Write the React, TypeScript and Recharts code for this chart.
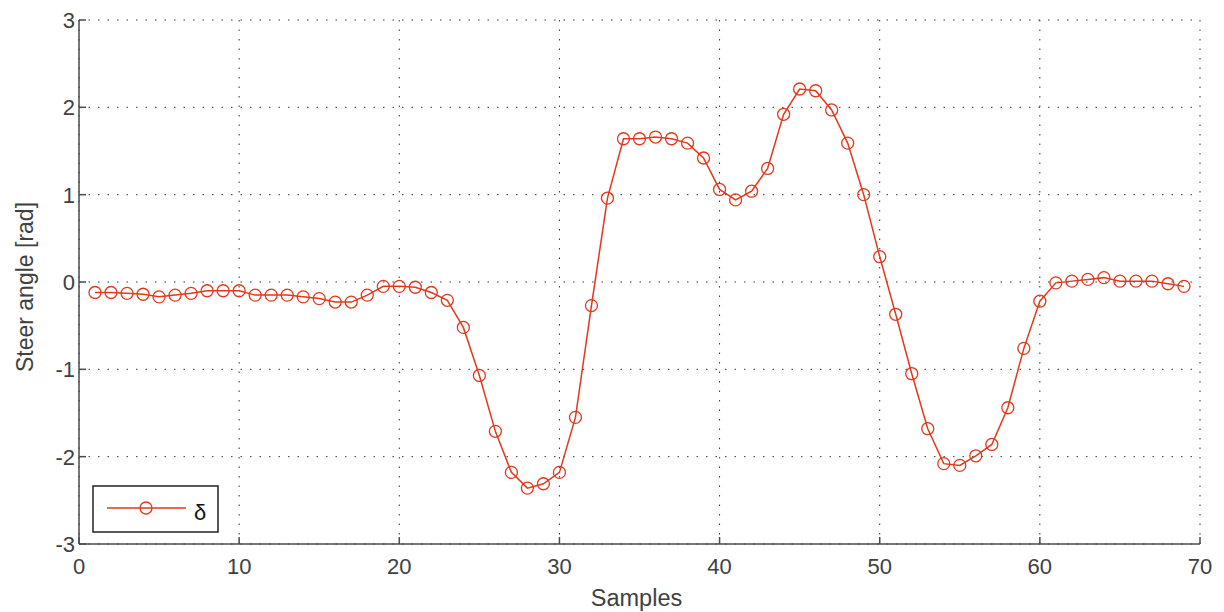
import { LineChart, Line, XAxis, YAxis, CartesianGrid, Legend, Label } from "recharts";

const SAMPLES = [
  1, 2, 3, 4, 5, 6, 7, 8, 9, 10, 11, 12, 13, 14, 15, 16, 17, 18, 19, 20, 21, 22, 23,
  24, 25, 26, 27, 28, 29, 30, 31, 32, 33, 34, 35, 36, 37, 38, 39, 40, 41, 42, 43, 44,
  45, 46, 47, 48, 49, 50, 51, 52, 53, 54, 55, 56, 57, 58, 59, 60, 61, 62, 63, 64, 65,
  66, 67, 68, 69,
];

// steer angle delta [rad]
const STEER = [
  -0.12, -0.12, -0.13, -0.14, -0.17, -0.15, -0.13, -0.1, -0.1, -0.1, -0.15, -0.15,
  -0.15, -0.17, -0.19, -0.23, -0.23, -0.15, -0.05, -0.05, -0.06, -0.12, -0.21, -0.52,
  -1.07, -1.71, -2.18, -2.36, -2.31, -2.18, -1.55, -0.27, 0.96, 1.64, 1.64, 1.66, 1.64,
  1.59, 1.42, 1.06, 0.94, 1.04, 1.3, 1.92, 2.21, 2.19, 1.97, 1.59, 1.0, 0.29, -0.37,
  -1.05, -1.68, -2.08, -2.1, -1.99, -1.86, -1.44, -0.76, -0.22, -0.01, 0.01, 0.03, 0.05,
  0.01, 0.01, 0.01, -0.02, -0.05,
];

const X_TICKS = [0, 10, 20, 30, 40, 50, 60, 70];
const Y_TICKS = [-3, -2, -1, 0, 1, 2, 3];

const RED = "#e2381b";
const AXIS = "#4a4a4a";
const TEXT = "#404040";
const FONT = "'Liberation Sans', Arial, sans-serif";
const TICK_LEN = 7;

const data = SAMPLES.map((s, i) => ({ sample: s, delta: STEER[i] }));

function BottomTick(props: any) {
  const { x, y, payload } = props;
  return (
    <g>
      <line x1={x} x2={x} y1={y} y2={y - TICK_LEN} stroke={AXIS} strokeWidth={1.5} />
      <text x={x} y={y + 30} textAnchor="middle" fill={TEXT} fontSize={22} fontFamily={FONT}>
        {payload.value}
      </text>
    </g>
  );
}

function TopTick(props: any) {
  const { x, y } = props;
  return <line x1={x} x2={x} y1={y} y2={y + TICK_LEN} stroke={AXIS} strokeWidth={1.5} />;
}

function LeftTick(props: any) {
  const { x, y, payload } = props;
  return (
    <g>
      <line x1={x} x2={x + TICK_LEN} y1={y} y2={y} stroke={AXIS} strokeWidth={1.5} />
      <text x={x - 4} y={y + 8} textAnchor="end" fill={TEXT} fontSize={22} fontFamily={FONT}>
        {payload.value}
      </text>
    </g>
  );
}

function RightTick(props: any) {
  const { x, y } = props;
  return <line x1={x} x2={x - TICK_LEN} y1={y} y2={y} stroke={AXIS} strokeWidth={1.5} />;
}

function XTitle(props: any) {
  const vb = props.viewBox;
  return (
    <text x={vb.x + vb.width / 2 - 3} y={vb.y + 62} textAnchor="middle" fill={TEXT} fontSize={23.5} fontFamily={FONT}>
      Samples
    </text>
  );
}

function YTitle(props: any) {
  const vb = props.viewBox;
  const cx = vb.x + 14;
  const cy = vb.y + vb.height / 2 + 5;
  return (
    <text
      x={cx}
      y={cy}
      transform={`rotate(-90 ${cx} ${cy})`}
      textAnchor="middle"
      fill={TEXT}
      fontSize={23}
      fontFamily={FONT}
    >
      Steer angle [rad]
    </text>
  );
}

function LegendBox() {
  return (
    <svg width={127} height={48} style={{ display: "block" }}>
      <rect x={1} y={1} width={125} height={46} fill="#fff" stroke="#222" strokeWidth={1.5} />
      <line x1={15} x2={94} y1={23} y2={23} stroke={RED} strokeWidth={1.5} />
      <circle cx={54} cy={23} r={6} fill="none" stroke={RED} strokeWidth={1.3} />
      <text x={102} y={35} fill="#111" fontSize={22} fontFamily={FONT}>
        δ
      </text>
    </svg>
  );
}

export default function App() {
  return (
    <div style={{ position: "absolute", left: 0, top: 0, background: "#fff" }}>
      <LineChart width={1224} height={612} data={data} margin={{ top: 20, right: 24, bottom: 28, left: 19 }}>
        <CartesianGrid stroke="#333" strokeDasharray="1.5 8" />
        <XAxis
          dataKey="sample"
          type="number"
          domain={[0, 70]}
          ticks={X_TICKS}
          interval={0}
          height={40}
          tickSize={0}
          tickMargin={0}
          tick={<BottomTick />}
          axisLine={{ stroke: AXIS, strokeWidth: 1.5 }}
          allowDataOverflow
        >
          <Label content={<XTitle />} />
        </XAxis>
        <XAxis
          xAxisId="top"
          orientation="top"
          dataKey="sample"
          type="number"
          domain={[0, 70]}
          ticks={X_TICKS}
          interval={0}
          height={0}
          tickSize={0}
          tickMargin={0}
          tick={<TopTick />}
          axisLine={{ stroke: AXIS, strokeWidth: 1.5 }}
          allowDataOverflow
        />
        <YAxis
          type="number"
          domain={[-3, 3]}
          ticks={Y_TICKS}
          interval={0}
          width={60}
          tickSize={0}
          tickMargin={0}
          tick={<LeftTick />}
          axisLine={{ stroke: AXIS, strokeWidth: 1.5 }}
          allowDataOverflow
        >
          <Label content={<YTitle />} />
        </YAxis>
        <YAxis
          yAxisId="right"
          orientation="right"
          type="number"
          domain={[-3, 3]}
          ticks={Y_TICKS}
          interval={0}
          width={0}
          tickSize={0}
          tickMargin={0}
          tick={<RightTick />}
          axisLine={{ stroke: AXIS, strokeWidth: 1.5 }}
          allowDataOverflow
        />
        <Legend
          layout="vertical"
          align="center"
          verticalAlign="middle"
          content={<LegendBox />}
          wrapperStyle={{ left: 92, top: 485, width: 127, height: 48 }}
        />
        <Line
          type="linear"
          dataKey="delta"
          name="δ"
          stroke={RED}
          strokeWidth={1.5}
          dot={{ r: 6, stroke: RED, strokeWidth: 1.3, fill: "none" }}
          activeDot={false}
          isAnimationActive={false}
        />
      </LineChart>
    </div>
  );
}
